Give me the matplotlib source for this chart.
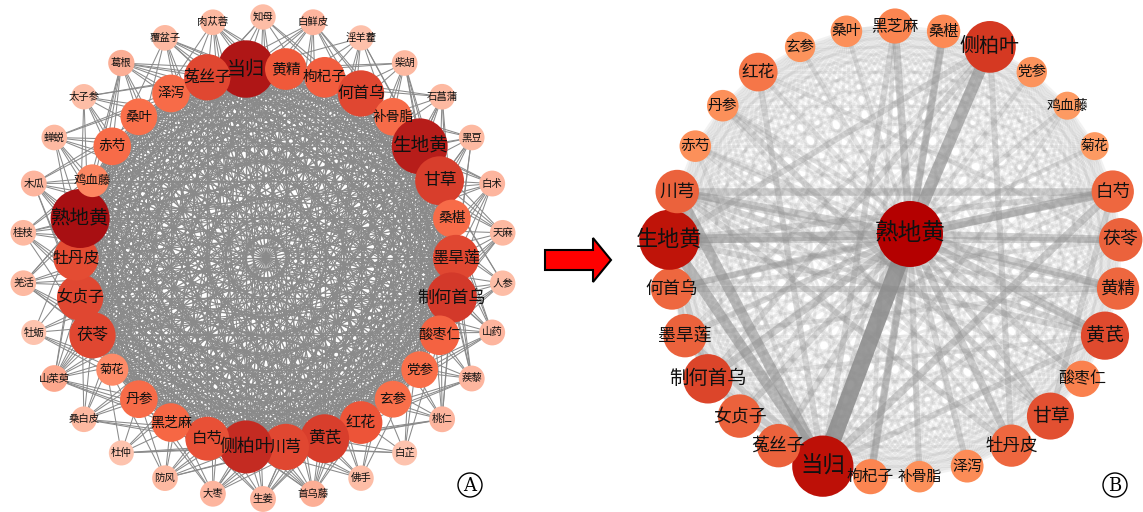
import numpy as np
import matplotlib.pyplot as plt
import matplotlib.patches as mpatches
from matplotlib.colors import LinearSegmentedColormap
from itertools import combinations

plt.rcParams['font.family'] = ['Noto Sans CJK SC', 'DejaVu Sans']

# ---- panel A: herb co-occurrence network (two rings) ----
inner_a = ['当归', '黄精', '枸杞子', '何首乌', '补骨脂', '生地黄', '甘草', '桑椹', '墨旱莲', '制何首乌',
           '酸枣仁', '党参', '玄参', '红花', '黄芪', '川芎', '侧柏叶', '白芍', '黑芝麻', '丹参',
           '菊花', '茯苓', '女贞子', '牡丹皮', '熟地黄', '鸡血藤', '赤芍', '桑叶', '泽泻', '菟丝子']
inner_a_deg = [58, 46, 45, 50, 42, 57, 52, 42, 50, 53,
               44, 41, 41, 47, 52, 50, 55, 48, 43, 42,
               35, 50, 50, 49, 59, 36, 42, 41, 42, 50]

outer_a = ['知母', '白鲜皮', '淫羊藿', '柴胡', '石菖蒲', '黑豆', '白术', '天麻', '人参', '山药',
           '蒺藜', '桃仁', '白芷', '佛手', '首乌藤', '生姜', '大枣', '防风', '杜仲', '桑白皮',
           '山茱萸', '牡蛎', '羌活', '桂枝', '木瓜', '蝉蜕', '太子参', '葛根', '覆盆子', '肉苁蓉']
outer_a_deg = [14, 16, 13, 15, 15, 15, 16, 15, 14, 16,
               16, 16, 12, 14, 18, 16, 16, 15, 12, 15,
               20, 12, 15, 15, 16, 15, 14, 18, 15, 15]

# inner herbs an outer herb links to, most frequent first
core_a = ['熟地黄', '当归', '生地黄', '侧柏叶', '制何首乌', '甘草', '黄芪', '川芎', '茯苓', '菟丝子',
          '墨旱莲', '女贞子', '何首乌', '牡丹皮', '白芍', '黄精', '红花', '枸杞子']

# ---- panel B: core herb network around 熟地黄 ----
ring_b = ['黑芝麻', '桑椹', '侧柏叶', '党参', '鸡血藤', '菊花', '白芍', '茯苓', '黄精', '黄芪',
          '酸枣仁', '甘草', '牡丹皮', '泽泻', '补骨脂', '枸杞子', '当归', '菟丝子', '女贞子', '制何首乌',
          '墨旱莲', '何首乌', '生地黄', '川芎', '赤芍', '丹参', '红花', '玄参', '桑叶']
ring_b_w = [48, 45, 76, 40, 36, 36, 60, 62, 60, 70,
            50, 68, 60, 44, 42, 48, 92, 62, 62, 72,
            62, 60, 90, 62, 42, 42, 54, 40, 42]
hub_b = '熟地黄'
hub_b_w = 100

strong_b = [('熟地黄', '当归', 10), ('熟地黄', '侧柏叶', 7), ('熟地黄', '生地黄', 5),
            ('当归', '生地黄', 6), ('当归', '川芎', 6), ('熟地黄', '黑芝麻', 4),
            ('熟地黄', '桑椹', 4), ('熟地黄', '白芍', 5), ('熟地黄', '茯苓', 4),
            ('熟地黄', '黄精', 4), ('熟地黄', '黄芪', 4), ('熟地黄', '甘草', 3),
            ('熟地黄', '牡丹皮', 4), ('熟地黄', '枸杞子', 4), ('熟地黄', '川芎', 4),
            ('熟地黄', '何首乌', 3), ('熟地黄', '制何首乌', 4), ('熟地黄', '墨旱莲', 3),
            ('熟地黄', '女贞子', 3), ('熟地黄', '菟丝子', 3), ('熟地黄', '酸枣仁', 3),
            ('熟地黄', '泽泻', 3), ('熟地黄', '补骨脂', 3), ('熟地黄', '赤芍', 2),
            ('熟地黄', '丹参', 2), ('熟地黄', '红花', 2), ('熟地黄', '玄参', 2),
            ('熟地黄', '桑叶', 2), ('熟地黄', '党参', 2), ('熟地黄', '鸡血藤', 2),
            ('熟地黄', '菊花', 2), ('川芎', '白芍', 4), ('生地黄', '茯苓', 3),
            ('当归', '白芍', 4), ('当归', '黄芪', 3), ('白芍', '甘草', 3),
            ('川芎', '黄芪', 3), ('川芎', '黄精', 3), ('生地黄', '制何首乌', 3),
            ('生地黄', '墨旱莲', 3), ('当归', '制何首乌', 3), ('当归', '菟丝子', 3),
            ('当归', '女贞子', 3), ('当归', '墨旱莲', 3), ('黑芝麻', '当归', 3),
            ('桑椹', '枸杞子', 3), ('侧柏叶', '牡丹皮', 3), ('侧柏叶', '制何首乌', 3),
            ('丹参', '甘草', 3), ('赤芍', '黄芪', 2), ('红花', '当归', 3),
            ('生地黄', '黄芪', 3), ('生地黄', '白芍', 3), ('何首乌', '黄精', 3),
            ('女贞子', '墨旱莲', 3), ('桑叶', '黑芝麻', 2), ('鸡血藤', '当归', 2),
            ('牡丹皮', '川芎', 3), ('何首乌', '白芍', 3), ('墨旱莲', '黄精', 2),
            ('丹参', '牡丹皮', 2), ('赤芍', '当归', 2), ('侧柏叶', '生地黄', 3),
            ('川芎', '甘草', 2), ('制何首乌', '黄芪', 2), ('菟丝子', '枸杞子', 2),
            ('红花', '茯苓', 2), ('丹参', '黄芪', 2), ('赤芍', '甘草', 2),
            ('生地黄', '黄精', 2), ('川芎', '酸枣仁', 2), ('何首乌', '茯苓', 2),
            ('桑椹', '当归', 2), ('黑芝麻', '枸杞子', 2), ('侧柏叶', '女贞子', 2),
            ('侧柏叶', '墨旱莲', 2), ('白芍', '制何首乌', 2), ('茯苓', '当归', 2)]

cmap_a = LinearSegmentedColormap.from_list('a', ['#fdc3ae', '#fca286', '#fd7a52', '#f0583a', '#d43a2a', '#a80f12'])
cmap_b = LinearSegmentedColormap.from_list('b', ['#fd9a62', '#fb8450', '#ec633d', '#d83e26', '#c21a0c', '#b40000'])

fig = plt.figure(figsize=(11.43, 5.12), dpi=100)
ax = fig.add_axes([0, 0, 1, 1])
ax.set_xlim(0, 1143)
ax.set_ylim(512, 0)
ax.set_aspect('equal')
ax.axis('off')


def ring(names, cx, cy, r, start):
    ang = np.deg2rad(start + 360.0 * np.arange(len(names)) / len(names))
    return {n: (cx + r * np.sin(a), cy - r * np.cos(a)) for n, a in zip(names, ang)}


# panel A layout
pos_a = ring(inner_a, 266, 258, 190, -6)
pos_a_out = ring(outer_a, 263, 258, 241, 0)

for u, v in combinations(inner_a, 2):
    (x0, y0), (x1, y1) = pos_a[u], pos_a[v]
    ax.plot([x0, x1], [y0, y1], color='#8a8a8a', lw=1.0, zorder=1)
for n, d in zip(outer_a, outer_a_deg):
    for m in core_a[:d - 4]:
        (x0, y0), (x1, y1) = pos_a_out[n], pos_a[m]
        ax.plot([x0, x1], [y0, y1], color='#8a8a8a', lw=0.75, zorder=1)


def node(x, y, r, c, label, fs):
    ax.add_patch(mpatches.Circle((x, y), r, fc=c, ec='none', zorder=3))
    ax.text(x, y, label, ha='center', va='center', fontsize=fs, color='#111111', zorder=4)


dmin, dmax = 12, 59
for n, d in zip(outer_a, outer_a_deg):
    t = (d - dmin) / (dmax - dmin)
    node(*pos_a_out[n], 12.5 + 5 * t, cmap_a(t), n, 7.5)
for n, d in zip(inner_a, inner_a_deg):
    t = (d - dmin) / (dmax - dmin)
    node(*pos_a[n], 12.5 + 17 * t ** 2.2, cmap_a(t ** 1.6), n, 7.5 + 6.5 * t ** 2.2)

# panel B layout
pos_b = ring(ring_b, 895, 252, 226, 0)
pos_b[hub_b] = (910, 234)
all_b = [hub_b] + ring_b
weights = {frozenset((u, v)): 1 for u, v in combinations(all_b, 2)}
for u, v, w in strong_b:
    weights[frozenset((u, v))] = w
for pair, w in sorted(weights.items(), key=lambda kv: kv[1]):
    u, v = tuple(pair)
    (x0, y0), (x1, y1) = pos_b[u], pos_b[v]
    ax.plot([x0, x1], [y0, y1], color='#8c8c8c', lw=(1.5 + 1.5 * w) * 0.72,
            alpha=min(0.88, 0.05 + 0.085 * w) if w > 1 else 0.11,
            solid_capstyle='butt', zorder=1)

wmin, wmax = 36, 100
for n, w in zip(ring_b + [hub_b], ring_b_w + [hub_b_w]):
    t = (w - wmin) / (wmax - wmin)
    node(*pos_b[n], 14 + 19 * t, cmap_b(t), n, 10 + 7 * t)

# arrow between panels
ax.add_patch(mpatches.FancyArrow(545, 260, 66, 0, width=20, head_width=44, head_length=18,
                                 length_includes_head=True, fc='#ff0000', ec='black', lw=1.5, zorder=5))

# panel tags
for x, tag in [(470, 'A'), (1115, 'B')]:
    ax.add_patch(mpatches.Circle((x, 485), 12, fc='white', ec='black', lw=1, zorder=5))
    ax.text(x, 486, tag, ha='center', va='center', fontsize=13, family='DejaVu Serif', zorder=6)

fig.savefig('out.png', dpi=100)
